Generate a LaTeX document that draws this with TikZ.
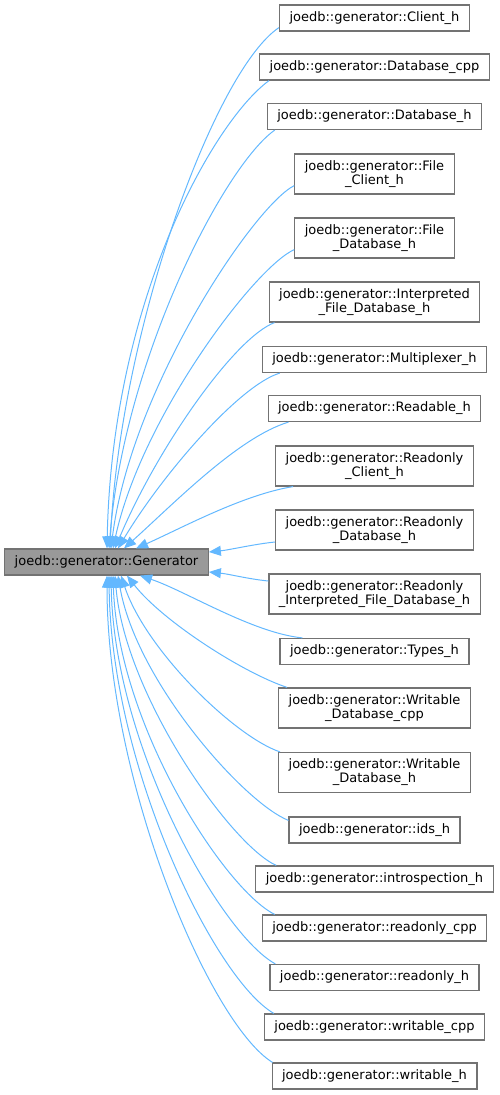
\documentclass[tikz,border=0pt]{standalone}
\usepackage{fontspec}
\setmainfont{DejaVu Sans}
\usetikzlibrary{arrows.meta,calc}
\definecolor{edgeblue}{HTML}{63B8FF}
\definecolor{boxgray}{HTML}{737373}
\definecolor{basegray}{HTML}{999999}

\begin{document}
\begin{tikzpicture}[x=1pt,y=-1pt,
    cls/.style={draw=boxgray, fill=white, line width=1.2pt, inner xsep=10pt, inner ysep=0pt,
        align=center, font=\fontsize{13}{14}\selectfont},
    oneline/.style={minimum height=26pt},
    twoline/.style={minimum height=40pt},
    basecls/.style={cls, oneline, fill=basegray},
    inherit/.style={-{Triangle[length=12pt,width=10pt]}, edgeblue, line width=1pt}]
\useasboundingbox (0,0) rectangle (499,1095);
% base class
\node[basecls] (gen) at (106.5,562) {joedb::generator::Generator};
% derived classes
\foreach \n/\s/\y/\t in {
    client/oneline/18/{joedb::generator::Client\_h},
    dbcpp/oneline/67/{joedb::generator::Database\_cpp},
    dbh/oneline/116.5/{joedb::generator::Database\_h},
    fclient/twoline/174/{joedb::generator::File\\\_Client\_h},
    fdb/twoline/238/{joedb::generator::File\\\_Database\_h},
    interp/twoline/302/{joedb::generator::Interpreted\\\_File\_Database\_h},
    mux/oneline/359.5/{joedb::generator::Multiplexer\_h},
    readable/oneline/408.5/{joedb::generator::Readable\_h},
    roclient/twoline/466/{joedb::generator::Readonly\\\_Client\_h},
    rodb/twoline/530/{joedb::generator::Readonly\\\_Database\_h},
    rointerp/twoline/594/{joedb::generator::Readonly\\\_Interpreted\_File\_Database\_h},
    types/oneline/651.5/{joedb::generator::Types\_h},
    wdbcpp/twoline/708/{joedb::generator::Writable\\\_Database\_cpp},
    wdbh/twoline/772.5/{joedb::generator::Writable\\\_Database\_h},
    ids/oneline/830/{joedb::generator::ids\_h},
    intro/oneline/879/{joedb::generator::introspection\_h},
    rocpp/oneline/928/{joedb::generator::readonly\_cpp},
    roh/oneline/977.5/{joedb::generator::readonly\_h},
    wcpp/oneline/1027/{joedb::generator::writable\_cpp},
    wh/oneline/1076/{joedb::generator::writable\_h}} {
    \node[cls,\s] (\n) at (374.5,\y) {\t};
}
% inheritance arrows
\foreach \n/\a/\p/\e/\q/\c/\d in {
    client/south west/{0,-4}/north/{3.5,0}/{-64,43}/{10,-219},
    dbcpp/south west/{10,0}/north/{0.5,0}/{-55,40}/{5,-249},
    dbh/south west/{8,0}/north/{2.5,0}/{-50,35}/{15,-190},
    fclient/south west/{0,-9}/north/{4.5,0}/{-40,20}/{20,-160},
    fdb/south west/{0,-9}/north/{6.5,0}/{-40,18}/{28,-130},
    interp/south west/{6,0}/north/{8.5,0}/{-40,15}/{42,-100},
    mux/south west/{18,0}/north/{11.5,0}/{-40,12}/{45,-75},
    readable/south west/{21,0}/north/{17.5,0}/{-50,15}/{50,-45},
    roclient/south west/{18,0}/north/{29.5,0}/{-50,8}/{45,-20},
    rodb/west/{0,12}/east/{0,-10}/{-20,2}/{20,-2},
    rointerp/west/{0,-13}/east/{0,10}/{-20,-2}/{20,2},
    types/north west/{23,0}/south/{33.5,0}/{-50,-5}/{45,15},
    wdbcpp/north west/{9,0}/south/{20.5,0}/{-45,-15}/{35,45},
    wdbh/north west/{2,0}/south/{14.5,0}/{-45,-15}/{25,75},
    ids/north west/{0,4}/south/{11.5,0}/{-45,-18}/{18,105},
    intro/north west/{21,0}/south/{8.5,0}/{-45,-20}/{10,120},
    rocpp/north west/{13,0}/south/{6.5,0}/{-50,-25}/{5,150},
    roh/north west/{6,0}/south/{4.5,0}/{-55,-30}/{3,170},
    wcpp/north west/{10,0}/south/{2.5,0}/{-60,-35}/{2,190},
    wh/north west/{1,0}/south/{0.5,0}/{-63,-39}/{0,205}} {
    \draw[inherit] ($(\n.\a)+(\p)$) .. controls +(\c) and +(\d) .. ($(gen.\e)+(\q)$);
}
\end{tikzpicture}
\end{document}
